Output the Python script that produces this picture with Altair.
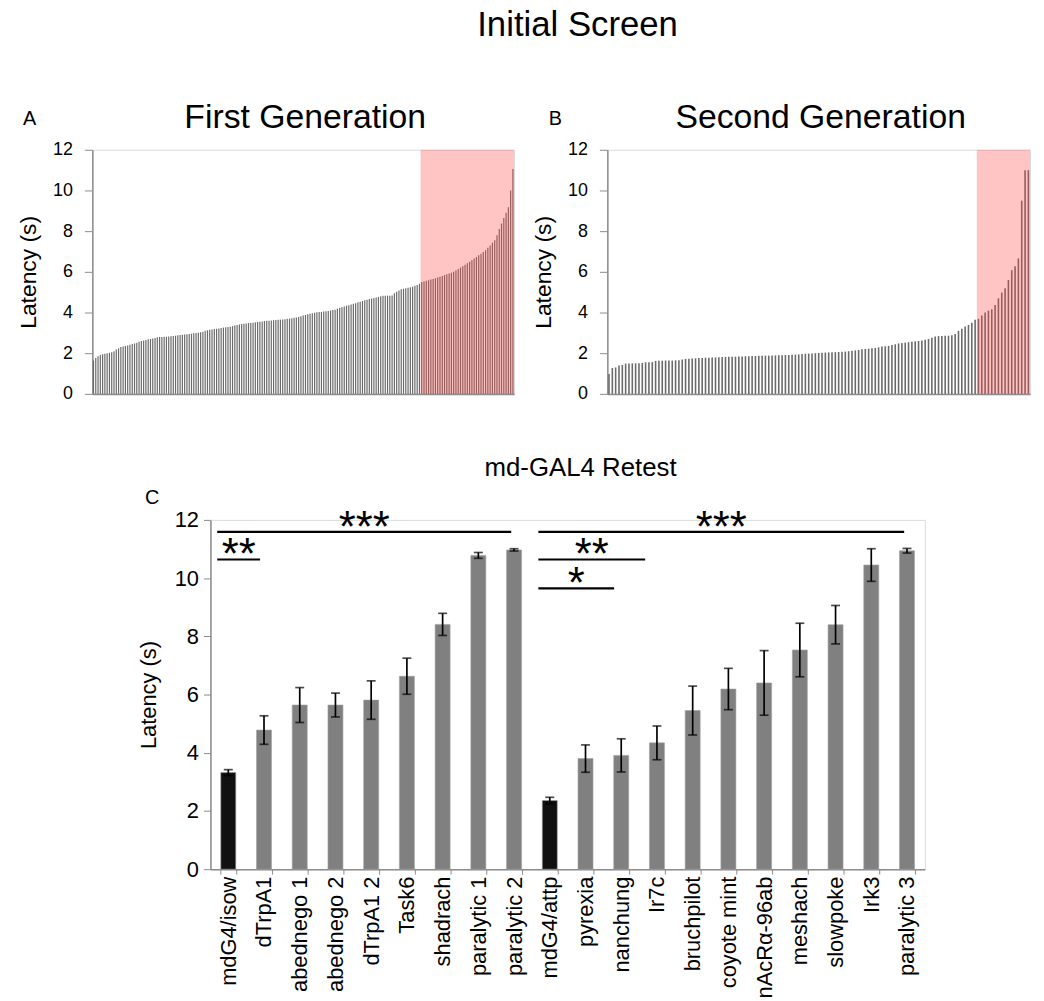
import altair as alt
import pandas as pd

FONT = "Liberation Sans"

# ---------------- data ----------------
first_gen = [
    1.64, 1.77, 1.85, 1.93, 1.95, 1.97, 2.00, 2.02, 2.05, 2.10,
    2.18, 2.24, 2.30, 2.33, 2.36, 2.38, 2.41, 2.45, 2.48, 2.52,
    2.56, 2.60, 2.62, 2.65, 2.68, 2.70, 2.72, 2.75, 2.78, 2.80,
    2.80, 2.81, 2.81, 2.82, 2.83, 2.84, 2.86, 2.88, 2.90, 2.91,
    2.92, 2.93, 2.95, 2.96, 2.98, 2.99, 3.00, 3.03, 3.06, 3.10,
    3.13, 3.15, 3.17, 3.19, 3.20, 3.22, 3.24, 3.26, 3.27, 3.29,
    3.30, 3.33, 3.36, 3.39, 3.41, 3.43, 3.45, 3.46, 3.48, 3.49,
    3.50, 3.52, 3.54, 3.55, 3.56, 3.58, 3.59, 3.60, 3.61, 3.62,
    3.63, 3.64, 3.65, 3.66, 3.67, 3.69, 3.70, 3.72, 3.74, 3.75,
    3.78, 3.82, 3.85, 3.88, 3.91, 3.94, 3.97, 3.99, 4.01, 4.03,
    4.03, 4.05, 4.06, 4.08, 4.10, 4.12, 4.14, 4.18, 4.22, 4.26,
    4.30, 4.33, 4.36, 4.39, 4.43, 4.46, 4.50, 4.53, 4.57, 4.60,
    4.63, 4.66, 4.69, 4.72, 4.74, 4.77, 4.80, 4.83, 4.83, 4.83,
    4.83, 4.84, 4.95, 5.02, 5.08, 5.15, 5.17, 5.19, 5.22, 5.24,
    5.27, 5.31, 5.35, 5.42, 5.50, 5.53, 5.56, 5.59, 5.62, 5.65,
    5.68, 5.72, 5.76, 5.80, 5.84, 5.88, 5.92, 5.96, 6.00, 6.07,
    6.14, 6.21, 6.28, 6.35, 6.42, 6.49, 6.57, 6.65, 6.73, 6.81,
    6.89, 6.97, 7.06, 7.18, 7.30, 7.43, 7.55, 7.80, 8.10, 8.37,
    8.65, 8.90, 9.18, 10.00, 11.06,
]
first_hit_from = 144

second_gen = [
    0.98, 1.27, 1.30, 1.40, 1.42, 1.49, 1.50, 1.50, 1.50, 1.51,
    1.52, 1.55, 1.56, 1.56, 1.62, 1.63, 1.63, 1.64, 1.64, 1.64,
    1.65, 1.65, 1.69, 1.72, 1.73, 1.74, 1.75, 1.76, 1.77, 1.78,
    1.78, 1.79, 1.79, 1.80, 1.81, 1.82, 1.83, 1.83, 1.83, 1.84,
    1.84, 1.85, 1.85, 1.86, 1.86, 1.87, 1.87, 1.88, 1.88, 1.89,
    1.89, 1.90, 1.90, 1.91, 1.91, 1.92, 1.93, 1.94, 1.96, 1.97,
    1.98, 1.99, 2.00, 2.01, 2.02, 2.03, 2.04, 2.05, 2.05, 2.06,
    2.07, 2.08, 2.10, 2.12, 2.14, 2.16, 2.20, 2.21, 2.22, 2.24,
    2.26, 2.29, 2.33, 2.34, 2.36, 2.40, 2.44, 2.48, 2.50, 2.52,
    2.54, 2.56, 2.58, 2.60, 2.62, 2.66, 2.70, 2.76, 2.82, 2.84,
    2.85, 2.86, 2.86, 2.88, 2.95, 3.10, 3.20, 3.31, 3.39, 3.50,
    3.64, 3.69, 3.85, 4.00, 4.09, 4.16, 4.37, 4.70, 4.98, 5.19,
    5.60, 6.08, 6.28, 6.66, 9.50, 11.00, 11.00,
]
second_hit_from = 111

y_max = 12

retest_lines = [
    "mdG4/isow", "dTrpA1", "abednego 1", "abednego 2", "dTrpA1 2", "Task6",
    "shadrach", "paralytic 1", "paralytic 2",
    "mdG4/attp", "pyrexia", "nanchung", "Ir7c", "bruchpilot", "coyote mint",
    "nAcRα-96ab", "meshach", "slowpoke", "Irk3", "paralytic 3",
]
retest_latency = [3.32, 4.78, 5.64, 5.64, 5.81, 6.63, 8.41, 10.78, 10.97,
                  2.36, 3.80, 3.91, 4.34, 5.45, 6.19, 6.40, 7.53, 8.40, 10.45, 10.94]
retest_sem = [0.10, 0.49, 0.60, 0.41, 0.66, 0.62, 0.38, 0.10, 0.04,
              0.11, 0.47, 0.57, 0.58, 0.84, 0.71, 1.11, 0.92, 0.66, 0.56, 0.08]
retest_group = ["control"] + ["candidate"] * 8 + ["control"] + ["candidate"] * 10

# significance brackets, in category-slot units (0 .. 20)
sig_from = [0.19, 0.19, 9.18, 9.18, 9.18]
sig_to = [8.42, 1.39, 19.42, 12.17, 11.30]
sig_level = [11.59, 10.64, 11.59, 10.64, 9.65]
sig_label = ["***", "**", "***", "**", "*"]

# ---------------- styles ----------------
AXIS_GRAY = "#8c8c8c"
SCREEN_W_A, SCREEN_W_B, SCREEN_H = 425, 426, 246
RETEST_W, RETEST_H = 720, 352
NO_VIEW = alt.ViewBackground(stroke="transparent", strokeWidth=0, fill="transparent")


def label(text, size, x, y, align="left", baseline="middle"):
    return alt.Chart(pd.DataFrame({"t": [text]})).mark_text(
        font=FONT, fontSize=size, align=align, baseline=baseline, color="black"
    ).encode(text="t:N", x=alt.value(x), y=alt.value(y))


def screen_panel(values, hit_from, title, letter, letter_x, width, bar_size):
    n = len(values)
    df = pd.DataFrame({"rank": list(range(n)), "latency": values})
    hit = pd.DataFrame({"start": [hit_from - 0.5], "end": [n - 0.5],
                        "lo": [0], "hi": [y_max]})
    xs = alt.Scale(domain=[-0.5, n - 0.5], nice=False, zero=False, padding=0)
    ys = alt.Scale(domain=[0, y_max], nice=False)
    xax = alt.Axis(labels=False, ticks=False, grid=False, title=None,
                   domainColor=AXIS_GRAY, domainWidth=1.5)
    yax = alt.Axis(values=list(range(0, 13, 2)), grid=False, title="Latency (s)",
                   titleFontSize=23, titleFont=FONT, titleFontWeight="normal",
                   titleColor="black", titlePadding=12,
                   labelFontSize=18, labelFont=FONT, labelColor="black",
                   labelPadding=12, tickSize=8, tickColor=AXIS_GRAY,
                   domainColor=AXIS_GRAY, domainWidth=1.5)
    bars = alt.Chart(df).mark_bar(size=bar_size, color="#6a6a6a").encode(
        x=alt.X("rank:Q", scale=xs, axis=xax),
        y=alt.Y("latency:Q", scale=ys, axis=yax),
    )
    shade = alt.Chart(hit).mark_rect(color="#ff4040", opacity=0.3).encode(
        x=alt.X("start:Q", scale=xs, axis=xax),
        x2="end:Q",
        y=alt.Y("lo:Q", scale=ys, axis=yax),
        y2="hi:Q",
    )
    tag = label(letter, 20, letter_x, -31)
    head = label(title, 34, width / 2 + 2, -22, align="center", baseline="alphabetic")
    return alt.layer(bars, shade, tag, head).properties(width=width, height=SCREEN_H)


panel_a = screen_panel(first_gen, first_hit_from, "First Generation", "A", -70, SCREEN_W_A, 1.2)
panel_b = screen_panel(second_gen, second_hit_from, "Second Generation", "B", -59, SCREEN_W_B, 1.6)

# ---------------- panel C ----------------
dfc = pd.DataFrame({"line": retest_lines, "latency": retest_latency,
                    "sem": retest_sem, "group": retest_group})
dfc["lo"] = dfc["latency"] - dfc["sem"]
dfc["hi"] = dfc["latency"] + dfc["sem"]

dfs = pd.DataFrame({"x0": sig_from, "x1": sig_to, "level": sig_level, "label": sig_label})

yc = alt.Scale(domain=[0, y_max], nice=False)
ycax = alt.Axis(values=list(range(0, 13, 2)), grid=False, title="Latency (s)",
                titleFontSize=22, titleFont=FONT, titleFontWeight="normal",
                titleColor="black", titlePadding=14,
                labelFontSize=22, labelFont=FONT, labelColor="black",
                labelPadding=5, tickSize=7, tickColor=AXIS_GRAY,
                domainColor=AXIS_GRAY, domainWidth=1.5)
xcs = alt.Scale(domain=retest_lines, paddingInner=0.58, paddingOuter=0.29)
xcax = alt.Axis(title=None, labelAngle=270, labelFontSize=22, labelFont=FONT,
                labelColor="black", labelPadding=2, tickBand="extent",
                tickSize=5, tickColor=AXIS_GRAY, domainColor=AXIS_GRAY,
                domainWidth=1.5, grid=False, labelLimit=200)

bars_c = alt.Chart(dfc).mark_bar(stroke="#a0a0a0", strokeWidth=0.6).encode(
    x=alt.X("line:N", sort=retest_lines, scale=xcs, axis=xcax),
    y=alt.Y("latency:Q", scale=yc, axis=ycax),
    color=alt.Color("group:N", legend=None,
                    scale=alt.Scale(domain=["control", "candidate"],
                                    range=["#111111", "#808080"])),
)
err_c = alt.Chart(dfc).mark_rule(color="black", strokeWidth=1.7).encode(
    x=alt.X("line:N", sort=retest_lines, scale=xcs, axis=xcax),
    y=alt.Y("lo:Q", scale=yc, axis=ycax),
    y2="hi:Q",
)
cap_lo = alt.Chart(dfc).mark_tick(color="black", thickness=1.7, size=9).encode(
    x=alt.X("line:N", sort=retest_lines, scale=xcs, axis=xcax),
    y=alt.Y("lo:Q", scale=yc, axis=ycax),
)
cap_hi = alt.Chart(dfc).mark_tick(color="black", thickness=1.7, size=9).encode(
    x=alt.X("line:N", sort=retest_lines, scale=xcs, axis=xcax),
    y=alt.Y("hi:Q", scale=yc, axis=ycax),
)
data_layers = alt.layer(bars_c, err_c, cap_lo, cap_hi)

slot = alt.Scale(domain=[0, len(retest_lines)], nice=False, zero=False)
sig_rules = alt.Chart(dfs).mark_rule(color="black", strokeWidth=2.2).encode(
    x=alt.X("x0:Q", scale=slot, axis=None),
    x2="x1:Q",
    y=alt.Y("level:Q", scale=yc, axis=ycax),
)
sig_text = alt.Chart(dfs).transform_calculate(
    mid="(datum.x0 + datum.x1) / 2"
).mark_text(font=FONT, fontSize=44, baseline="alphabetic", dy=10, color="black").encode(
    x=alt.X("mid:Q", scale=slot, axis=None),
    y=alt.Y("level:Q", scale=yc, axis=ycax),
    text="label:N",
)
tag_c = label("C", 20, -66, -22)
head_c = label("md-GAL4 Retest", 26, RETEST_W / 2 + 13, -44, align="center", baseline="alphabetic")

panel_c = alt.layer(data_layers, alt.layer(sig_rules, sig_text), tag_c, head_c).resolve_scale(
    x="independent"
).properties(width=RETEST_W, height=RETEST_H)

# invisible spacer that indents the retest panel
spacer = alt.Chart(pd.DataFrame({"t": [" "]})).mark_text(opacity=0).encode(
    text="t:N", x=alt.value(0), y=alt.value(0)
).properties(width=45, height=1, view=NO_VIEW)

top_row = alt.hconcat(panel_a, panel_b, spacing=17)
bottom_row = alt.hconcat(spacer, panel_c, spacing=0)

chart = alt.vconcat(top_row, bottom_row, spacing=51).properties(
    title=alt.Title("Initial Screen", fontSize=35, font=FONT, fontWeight="normal",
                    anchor="middle", dx=54, offset=58, color="black"),
    padding={"left": 9, "top": -4, "right": 5, "bottom": 5},
).configure_view(stroke="transparent", strokeWidth=0).configure(background="white")

chart.save("out.html", embed_options={"renderer": "svg", "actions": False})
